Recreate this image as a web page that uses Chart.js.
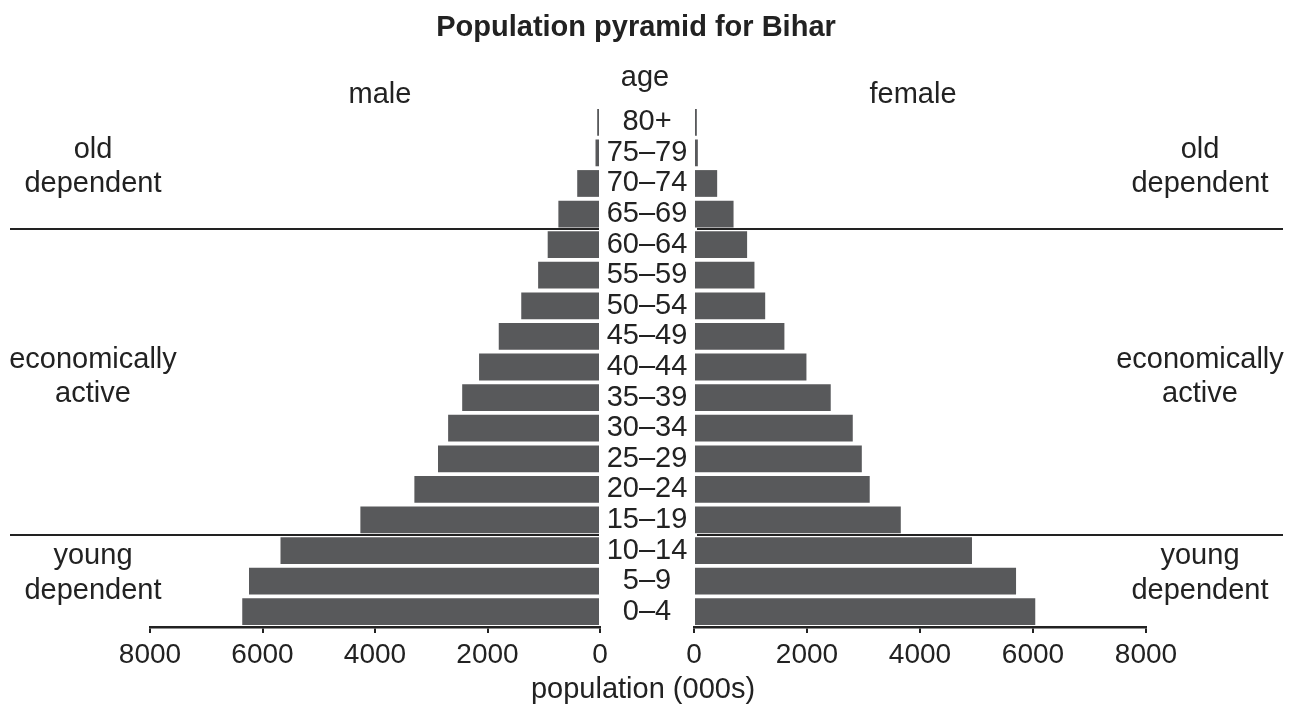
<!DOCTYPE html>
<html>
<head>
<meta charset="utf-8">
<script src="https://cdn.jsdelivr.net/npm/chart.js@4"></script>
<style>
  html, body { margin: 0; padding: 0; background: #fff; }
  #wrap { position: relative; width: 1299px; height: 711px; }
  canvas { position: absolute; left: 0; top: 0; }
</style>
</head>
<body>
<div id="wrap">
  <canvas id="izq" width="1299" height="711"></canvas>
  <canvas id="der" width="1299" height="711"></canvas>
</div>
<script>
// Datos (miles de personas), de 0-4 hacia 80+
const edades = ['0–4', '5–9', '10–14', '15–19', '20–24', '25–29', '30–34', '35–39',
  '40–44', '45–49', '50–54', '55–59', '60–64', '65–69', '70–74', '75–79', '80+'];
const hombres = [6360, 6240, 5680, 4260, 3300, 2880, 2700, 2450, 2150, 1800, 1400, 1100, 930, 740, 405, 80, 50];
const mujeres = [6040, 5700, 4920, 3660, 3110, 2970, 2810, 2420, 1990, 1600, 1260, 1070, 940, 700, 410, 68, 50];
const ticksX = [0, 2000, 4000, 6000, 8000];

const FUENTE = "'Liberation Sans', Arial, Helvetica, sans-serif";
const TINTA = '#222222';
const GRIS = '#58595b';

// Dibuja una línea de texto
function texto(ctx, t, x, y, size, bold) {
    ctx.font = (bold ? 'bold ' : '') + size + 'px ' + FUENTE;
    ctx.fillStyle = TINTA;
    ctx.textAlign = 'center';
    ctx.textBaseline = 'middle';
    ctx.fillText(t, x, y);
}

// Líneas separadoras entre grupos de edad
function separadores(chart, x0, x1) {
    const y = chart.scales.y;
    const ctx = chart.ctx;
    ctx.save();
    ctx.strokeStyle = TINTA;
    ctx.lineWidth = 2;
    [[12, 13], [2, 3]].forEach(par => {
        const yy = Math.round((y.getPixelForValue(par[0]) + y.getPixelForValue(par[1])) / 2);
        ctx.beginPath();
        ctx.moveTo(x0, yy);
        ctx.lineTo(x1, yy);
        ctx.stroke();
    });
    ctx.restore();
}

const anotacionesIzq = {
    id: 'anotacionesIzq',
    afterDraw(chart) {
        const ctx = chart.ctx;
        const y = chart.scales.y;
        separadores(chart, 10, chart.chartArea.right - 1);
        ctx.save();
        texto(ctx, 'Population pyramid for Bihar', 636, 28, 29, true);
        texto(ctx, 'male', 380, 95, 29);
        texto(ctx, 'age', 645, 78, 29);
        // etiquetas de edad en el centro
        edades.forEach((e, i) => texto(ctx, e, 647, y.getPixelForValue(i), 29));
        texto(ctx, 'old', 93, 150, 29);
        texto(ctx, 'dependent', 93, 184, 29);
        texto(ctx, 'economically', 93, 360, 29);
        texto(ctx, 'active', 93, 394, 29);
        texto(ctx, 'young', 93, 556, 29);
        texto(ctx, 'dependent', 93, 591, 29);
        texto(ctx, 'population (000s)', 643, 690, 29);
        ctx.restore();
    }
};

const anotacionesDer = {
    id: 'anotacionesDer',
    afterDraw(chart) {
        const ctx = chart.ctx;
        separadores(chart, chart.chartArea.left + 3, 1283);
        ctx.save();
        texto(ctx, 'female', 913, 95, 29);
        texto(ctx, 'old', 1200, 150, 29);
        texto(ctx, 'dependent', 1200, 184, 29);
        texto(ctx, 'economically', 1200, 360, 29);
        texto(ctx, 'active', 1200, 394, 29);
        texto(ctx, 'young', 1200, 556, 29);
        texto(ctx, 'dependent', 1200, 591, 29);
        ctx.restore();
    }
};

// Opciones comunes de una mitad de la pirámide
function opciones(invertido, izquierda, derecha) {
    return {
        indexAxis: 'y',
        responsive: false,
        animation: false,
        layout: { padding: { left: izquierda, right: derecha, top: 107, bottom: 0 } },
        plugins: { legend: { display: false }, tooltip: { enabled: false }, title: { display: false } },
        scales: {
            x: {
                type: 'linear',
                min: 0,
                max: 8000,
                reverse: invertido,
                afterBuildTicks: s => { s.ticks = ticksX.map(v => ({ value: v })); },
                afterFit: s => { s.height = 84; },
                ticks: {
                    color: TINTA,
                    font: { family: FUENTE, size: 28 },
                    padding: 5,
                    maxRotation: 0,
                    callback: v => String(v)  // sin separador de miles
                },
                grid: { drawOnChartArea: false, drawTicks: true, tickLength: 6, color: TINTA, lineWidth: 2 },
                border: { display: true, color: TINTA, width: 2.5 }
            },
            y: {
                type: 'category',
                reverse: true,
                display: false,
                offset: true
            }
        }
    };
}

new Chart(document.getElementById('izq'), {
    type: 'bar',
    data: {
        labels: edades,
        datasets: [{
            label: 'male',
            data: hombres,
            backgroundColor: GRIS,
            borderWidth: 0,
            barPercentage: 0.875,
            categoryPercentage: 1
        }]
    },
    options: opciones(true, 150, 1299 - 600),
    plugins: [anotacionesIzq]
});

new Chart(document.getElementById('der'), {
    type: 'bar',
    data: {
        labels: edades,
        datasets: [{
            label: 'female',
            data: mujeres,
            backgroundColor: GRIS,
            borderWidth: 0,
            barPercentage: 0.875,
            categoryPercentage: 1
        }]
    },
    options: opciones(false, 694, 1299 - 1146),
    plugins: [anotacionesDer]
});
</script>
</body>
</html>
